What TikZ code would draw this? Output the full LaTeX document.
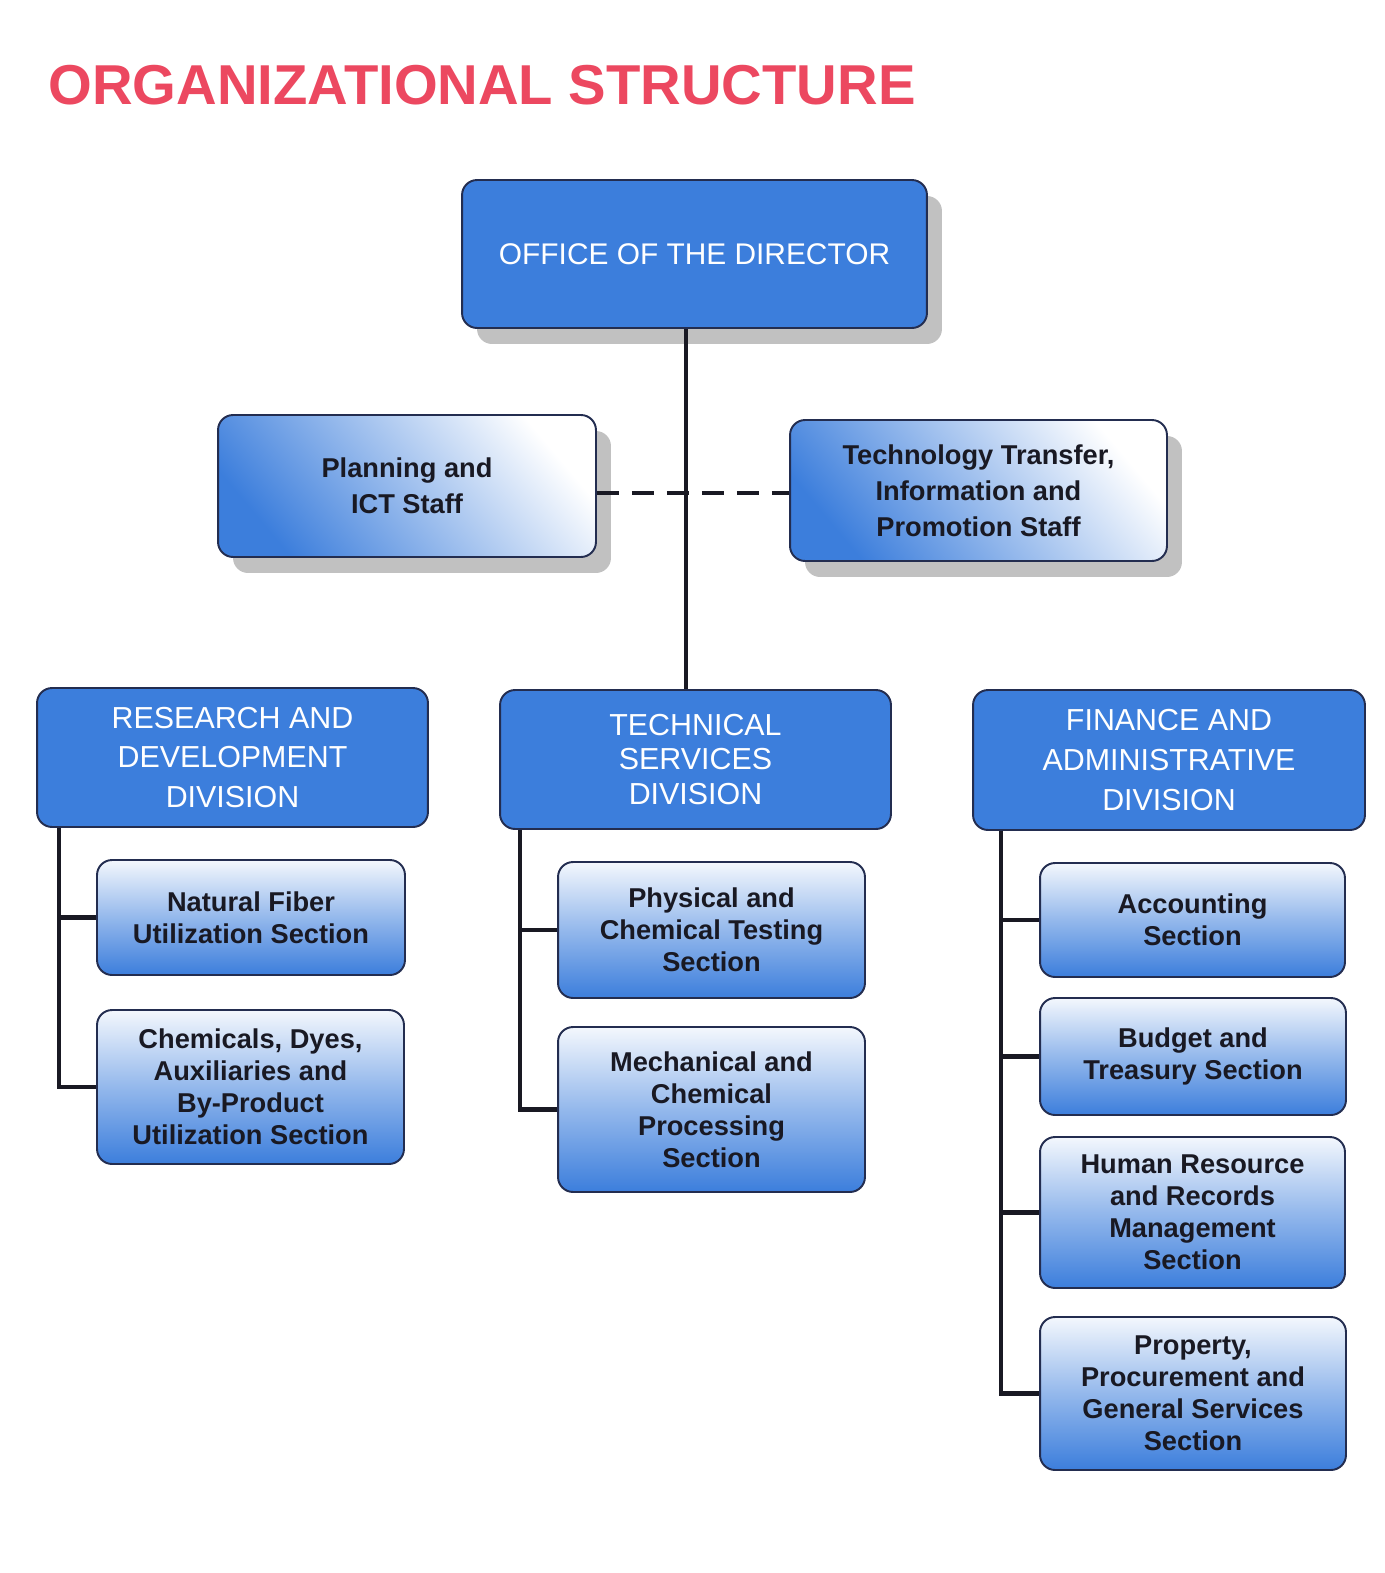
\documentclass[tikz,border=0pt]{standalone}
\usepackage{fontspec}
\setmainfont{Liberation Sans}
\usetikzlibrary{shadows}
\definecolor{boxblue}{RGB}{60,126,220}
\definecolor{boxline}{RGB}{35,45,80}
\definecolor{titlered}{RGB}{236,72,96}
\definecolor{inkdark}{RGB}{25,25,35}

\begin{document}
\begin{tikzpicture}[x=0.02cm, y=-0.02cm,
  box/.style={draw=boxline, line width=1.1pt, rounded corners=0.3cm, align=center, inner sep=0pt},
  darkshadow/.style={drop shadow={shadow xshift=0.3cm, shadow yshift=-0.32cm, fill=black!40, opacity=0.6}},
  headbox/.style={box, fill=boxblue, text=white, font=\fontsize{17.3}{22.7}\selectfont},
  staffbox/.style={box, darkshadow, top color=white, bottom color=boxblue, shading angle=-50, text=inkdark, font=\fontsize{15.5}{20.4}\selectfont\bfseries},
  sectbox/.style={box, top color=white!94!boxblue, bottom color=boxblue, middle color=boxblue!55!white, text=inkdark, font=\fontsize{15.5}{18.2}\selectfont\bfseries},
  link/.style={draw=inkdark, line width=2.3pt}]
\fill [white] (0,0) rectangle (1385,1573);
\useasboundingbox (0,0) rectangle (1385,1573);

\node (title) [anchor=base west, inner sep=0pt, text=titlered, font=\fontsize{32}{38}\selectfont\bfseries] at (48,104) {ORGANIZATIONAL STRUCTURE};

\node (dir) [headbox, darkshadow, minimum width=9.3cm, minimum height=2.96cm, font=\fontsize{17}{20}\selectfont] at (694.5,254) {OFFICE OF THE DIRECTOR};
\node (plan) [staffbox, minimum width=7.56cm, minimum height=2.84cm] at (407,486) {Planning and\\ICT Staff};
\node (ttip) [staffbox, minimum width=7.54cm, minimum height=2.82cm] at (978.5,490.5) {Technology Transfer,\\Information and\\Promotion Staff};

\node (rdd) [headbox, minimum width=7.82cm, minimum height=2.78cm] at (232.5,757.5) {RESEARCH AND\\DEVELOPMENT\\DIVISION};
\node (tsd) [headbox, minimum width=7.82cm, minimum height=2.78cm, font=\fontsize{17.3}{19.9}\selectfont] at (695.5,759.5) {TECHNICAL\\SERVICES\\DIVISION};
\node (fad) [headbox, minimum width=7.84cm, minimum height=2.8cm] at (1169,760) {FINANCE AND\\ADMINISTRATIVE\\DIVISION};

\node (nfu) [sectbox, minimum width=6.16cm, minimum height=2.3cm] at (251,917.5) {Natural Fiber\\Utilization Section};
\node (cdu) [sectbox, minimum width=6.14cm, minimum height=3.08cm] at (250.5,1087) {Chemicals, Dyes,\\Auxiliaries and\\By-Product\\Utilization Section};

\node (pct) [sectbox, minimum width=6.14cm, minimum height=2.72cm] at (711.5,930) {Physical and\\Chemical Testing\\Section};
\node (mcp) [sectbox, minimum width=6.14cm, minimum height=3.3cm] at (711.5,1109.5) {Mechanical and\\Chemical\\Processing\\Section};

\node (acc) [sectbox, minimum width=6.1cm, minimum height=2.28cm] at (1192.5,920) {Accounting\\Section};
\node (bts) [sectbox, minimum width=6.12cm, minimum height=2.34cm] at (1193,1056.5) {Budget and\\Treasury Section};
\node (hrm) [sectbox, minimum width=6.1cm, minimum height=3.02cm] at (1192.5,1212.5) {Human Resource\\and Records\\Management\\Section};
\node (ppg) [sectbox, minimum width=6.12cm, minimum height=3.06cm] at (1193,1393.5) {Property,\\Procurement and\\General Services\\Section};

\draw [link] ([xshift=-0.17cm]dir.south) -- ([xshift=-0.17cm]dir.south |- tsd.north);
\draw [link, line width=2.8pt, dash pattern=on 0.44cm off 0.26cm] ([yshift=-0.14cm]plan.east) -- ([yshift=-0.14cm]plan.east -| ttip.west);

\draw [link] ([xshift=0.46cm]rdd.south west) |- (nfu.west);
\draw [link] ([xshift=0.46cm]rdd.south west) |- (cdu.west);
\draw [link] ([xshift=0.42cm]tsd.south west) |- (pct.west);
\draw [link] ([xshift=0.42cm]tsd.south west) |- (mcp.west);
\draw [link] ([xshift=0.58cm]fad.south west) |- (acc.west);
\draw [link] ([xshift=0.58cm]fad.south west) |- (bts.west);
\draw [link] ([xshift=0.58cm]fad.south west) |- (hrm.west);
\draw [link] ([xshift=0.58cm]fad.south west) |- (ppg.west);
\end{tikzpicture}
\end{document}
